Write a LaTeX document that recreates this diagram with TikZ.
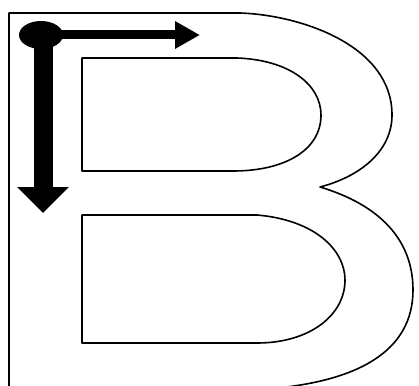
\documentclass[tikz,border=0pt]{standalone}
\usepackage{tikz}
\usetikzlibrary{shapes,arrows.meta,positioning,calc}
\usepackage{xcolor}

\tikzset{
    outline/.style={line width=1.6pt, line join=round},
    bigarrow/.style={line width=#1, draw=black},
}

\begin{document}
\begin{tikzpicture}[x=1pt, y=-1pt]
    \useasboundingbox (0,0) rectangle (419,385);
    \clip (0,0) rectangle (419,385);
    % Outer letter B
    \draw[outline] (9,13) -- (240,13)
        .. controls (300,15) and (392,45) .. (392,115)
        .. controls (392,150) and (362,176) .. (320,187)
        .. controls (380,205) and (413,240) .. (413,290)
        .. controls (413,350) and (360,385) .. (250,390)
        -- (9,390) -- cycle;
    % Counters
    \draw[outline] (82,58) -- (237,58)
        .. controls (290,60) and (321,85) .. (321,115)
        .. controls (321,150) and (285,171) .. (233,171)
        -- (82,171) -- cycle;
    \draw[outline] (82,215) -- (257,215)
        .. controls (315,220) and (345,250) .. (345,280)
        .. controls (345,315) and (310,343) .. (257,343)
        -- (82,343) -- cycle;
    % Start point and directions
    \node[ellipse, fill=black, minimum width=44pt, minimum height=28pt, inner sep=0pt] (start) at (41,35) {};
    \coordinate (rightend) at (200,35);
    \coordinate (downend) at (43,213);
    \draw[bigarrow=9pt, -{Triangle[length=25pt,width=26pt]}] (start.center) -- (rightend);
    \draw[bigarrow=19pt, -{Triangle[length=26pt,width=50pt]}] (start.center -| downend) -- (downend);
\end{tikzpicture}
\end{document}
